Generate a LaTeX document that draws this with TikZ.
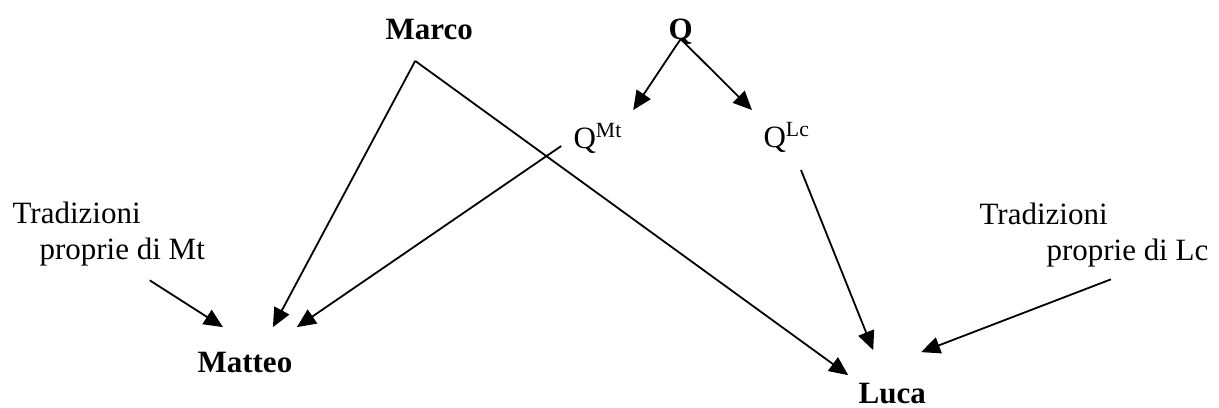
\documentclass[tikz,border=0pt]{standalone}
\usepackage{fontspec}
\setmainfont{Liberation Serif}
\usetikzlibrary{arrows.meta,calc}
\tikzset{
  arr/.style={-{Triangle[length=6.3pt,width=5.6pt]}, line width=0.6pt},
  lbl/.style={inner sep=0pt, font=\fontsize{10.33pt}{12pt}\selectfont},
  gospel/.style={lbl, font=\fontsize{10.33pt}{12pt}\selectfont\bfseries},
  trad/.style={lbl, align=left, anchor=north west}
}
\begin{document}
\begin{tikzpicture}[x=0.3333pt, y=-0.3333pt]
  \useasboundingbox (0,0) rectangle (1219,407);
  % sources
  \node[gospel, anchor=base west] (marco) at (385,39) {Marco};
  \node[gospel, anchor=base west] (q) at (668,39) {Q};
  \node[lbl, anchor=base west] (qmt) at (573,148) {Q\textsuperscript{Mt}};
  \node[lbl, anchor=base west] (qlc) at (763,147) {Q\textsuperscript{Lc}};
  \node[trad] (tradmt) at (12,201) {Tradizioni\\\hspace*{9pt}proprie di Mt};
  \node[trad] (tradlc) at (979,202) {Tradizioni\\\hspace*{22.3pt}proprie di Lc};
  % gospels
  \node[gospel, anchor=base west] (matteo) at (197,372) {Matteo};
  \node[gospel, anchor=base west] (luca) at (858,403) {Luca};
  \coordinate (bend) at ($(marco.south)+(-14,21)$);
  % connectors
  \draw[arr] (q.base) -- ($(qmt.base)+(35,-38)$);
  \draw[arr] (q.base) -- ($(qlc.base)+(-35,-37)$);
  \draw[arr] (bend) -- ($(matteo.north)+(28,-24)$);
  \draw[arr] (bend) -- ($(luca.north)+(-44,-7)$);
  \draw[arr] ($(qmt.base)+(-37,-2)$) -- ($(matteo.north)+(52,-24)$);
  \draw[arr] ($(tradmt.south)+(41,14)$) -- ($(matteo.north)+(-22,-24)$);
  \draw[arr] ($(qlc.base)+(14,23)$) -- ($(luca.north)+(-19,-32)$);
  \draw[arr] ($(tradlc.south)+(17,12)$) -- ($(luca.north)+(29,-30)$);
\end{tikzpicture}
\end{document}
